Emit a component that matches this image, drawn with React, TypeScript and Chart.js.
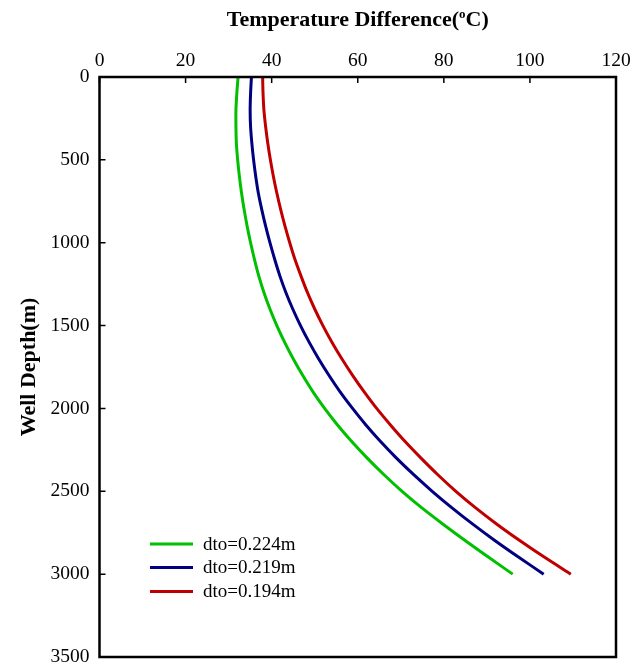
import React, { useEffect, useRef } from 'react';
import { Chart, registerables } from 'chart.js';

Chart.register(...registerables);

const depths = [0, 100, 200, 300, 400, 500, 600, 700, 800, 900, 1000, 1100, 1200, 1300, 1400, 1500, 1600, 1700, 1800, 1900, 2000, 2100, 2200, 2300, 2400, 2500, 2600, 2700, 2800, 2900, 3000];

const tempDto224 = [32.2, 31.9, 31.7, 31.7, 31.8, 32.1, 32.5, 33.0, 33.6, 34.3, 35.1, 36.0, 37.0, 38.2, 39.6, 41.2, 43.0, 45.0, 47.2, 49.6, 52.3, 55.3, 58.6, 62.2, 66.1, 70.3, 74.9, 79.9, 85.1, 90.5, 96.0];
const tempDto219 = [35.3, 35.1, 35.0, 35.1, 35.4, 35.8, 36.3, 36.9, 37.7, 38.6, 39.6, 40.7, 41.9, 43.3, 44.9, 46.7, 48.7, 50.9, 53.3, 55.9, 58.8, 61.9, 65.3, 69.0, 73.0, 77.3, 81.9, 86.8, 92.0, 97.5, 103.2];
const tempDto194 = [37.9, 38.0, 38.2, 38.6, 39.1, 39.7, 40.4, 41.2, 42.1, 43.1, 44.2, 45.4, 46.8, 48.3, 50.0, 51.9, 54.0, 56.3, 58.8, 61.5, 64.4, 67.6, 71.0, 74.7, 78.6, 82.8, 87.4, 92.4, 97.8, 103.5, 109.5];

const seriesLabels = ['dto=0.224m', 'dto=0.219m', 'dto=0.194m'];
const seriesColors = ['#00C000', '#000080', '#C00000'];
const seriesValues = [tempDto224, tempDto219, tempDto194];

const xTicks = [0, 20, 40, 60, 80, 100, 120];
const yTicks = [0, 500, 1000, 1500, 2000, 2500, 3000, 3500];

const xTitleMain = 'Temperature Difference(';
const xTitleSup = 'o';
const xTitleEnd = 'C)';
const yTitle = 'Well Depth(m)';

const SERIF = '"Liberation Serif", "Times New Roman", serif';

const decorPlugin = {
  id: 'decor',
  afterDraw(chart: any) {
    const { ctx, chartArea, scales } = chart;
    const { left, top, right, bottom } = chartArea;
    ctx.save();
    ctx.strokeStyle = '#000';
    ctx.lineCap = 'butt';
    ctx.lineWidth = 1.5;
    ctx.beginPath();
    for (const v of xTicks) {
      const px = scales.x.getPixelForValue(v);
      ctx.moveTo(px, top);
      ctx.lineTo(px, top + 6);
    }
    for (const v of yTicks) {
      const py = scales.y.getPixelForValue(v);
      ctx.moveTo(left, py);
      ctx.lineTo(left + 6, py);
    }
    ctx.stroke();
    ctx.lineWidth = 2.5;
    ctx.strokeRect(left, top, right - left, bottom - top);

    ctx.fillStyle = '#000';
    ctx.textBaseline = 'alphabetic';
    ctx.textAlign = 'left';
    const bigFont = `bold 22px ${SERIF}`;
    const supFont = `bold 13px ${SERIF}`;
    ctx.font = bigFont;
    const w1 = ctx.measureText(xTitleMain).width;
    const w3 = ctx.measureText(xTitleEnd).width;
    ctx.font = supFont;
    const w2 = ctx.measureText(xTitleSup).width;
    const total = w1 + w2 + w3;
    const cx = (left + right) / 2;
    const x0 = cx - total / 2;
    const base = 26;
    ctx.font = bigFont;
    ctx.fillText(xTitleMain, x0, base);
    ctx.font = supFont;
    ctx.fillText(xTitleSup, x0 + w1, base - 8);
    ctx.font = bigFont;
    ctx.fillText(xTitleEnd, x0 + w1 + w2, base);

    ctx.save();
    ctx.translate(35, (top + bottom) / 2);
    ctx.rotate(-Math.PI / 2);
    ctx.textAlign = 'center';
    ctx.textBaseline = 'alphabetic';
    ctx.font = bigFont;
    ctx.fillText(yTitle, 0, 0);
    ctx.restore();

    const ds = chart.data.datasets;
    ctx.font = `19px ${SERIF}`;
    ctx.textBaseline = 'middle';
    ctx.textAlign = 'left';
    const rowY = [544, 567.5, 591.5];
    ds.forEach((d: any, i: number) => {
      const y = rowY[i];
      ctx.strokeStyle = d.borderColor;
      ctx.lineWidth = 3;
      ctx.beginPath();
      ctx.moveTo(150, y);
      ctx.lineTo(193, y);
      ctx.stroke();
      ctx.fillStyle = '#000';
      ctx.fillText(d.label, 203, y + 1);
    });
    ctx.restore();
  },
};

export default function App() {
  const ref = useRef<HTMLCanvasElement | null>(null);
  useEffect(() => {
    if (!ref.current) return;
    const datasets = seriesValues.map((vals, i) => ({
      label: seriesLabels[i],
      data: vals.map((v, j) => ({ x: v, y: depths[j] })),
      borderColor: seriesColors[i],
      backgroundColor: seriesColors[i],
      borderWidth: 3,
      pointRadius: 0,
      showLine: true,
      tension: 0.3,
      fill: false,
    }));
    const chart = new Chart(ref.current, {
      type: 'scatter',
      data: { datasets },
      options: {
        animation: false,
        responsive: false,
        maintainAspectRatio: false,
        layout: { padding: { left: 0, right: 16, top: 0, bottom: 8 } },
        plugins: { legend: { display: false }, tooltip: { enabled: false }, title: { display: false } },
        scales: {
          x: {
            type: 'linear',
            position: 'top',
            min: 0,
            max: 120,
            afterBuildTicks: (s: any) => { s.ticks = xTicks.map((v) => ({ value: v })); },
            ticks: { color: '#000', padding: 4, font: { family: SERIF, size: 19.5 }, callback: (v: any) => String(v) },
            grid: { display: false, drawTicks: false },
            border: { display: false },
            afterFit: (s: any) => { s.height = 77; s.paddingLeft = 0; s.paddingRight = 0; },
          },
          y: {
            type: 'linear',
            reverse: true,
            min: 0,
            max: 3500,
            afterBuildTicks: (s: any) => { s.ticks = yTicks.map((v) => ({ value: v })); },
            ticks: { color: '#000', padding: 10, font: { family: SERIF, size: 19.5 }, callback: (v: any) => String(v) },
            grid: { display: false, drawTicks: false },
            border: { display: false },
            afterFit: (s: any) => { s.width = 99.5; s.paddingTop = 0; s.paddingBottom = 0; },
          },
        },
      },
      plugins: [decorPlugin],
    });
    return () => chart.destroy();
  }, []);
  return (
    <div style={{ position: 'absolute', left: 0, top: 0, width: 632, height: 665, background: '#fff' }}>
      <canvas ref={ref} width={632} height={665} style={{ display: 'block', width: 632, height: 665 }} />
    </div>
  );
}
